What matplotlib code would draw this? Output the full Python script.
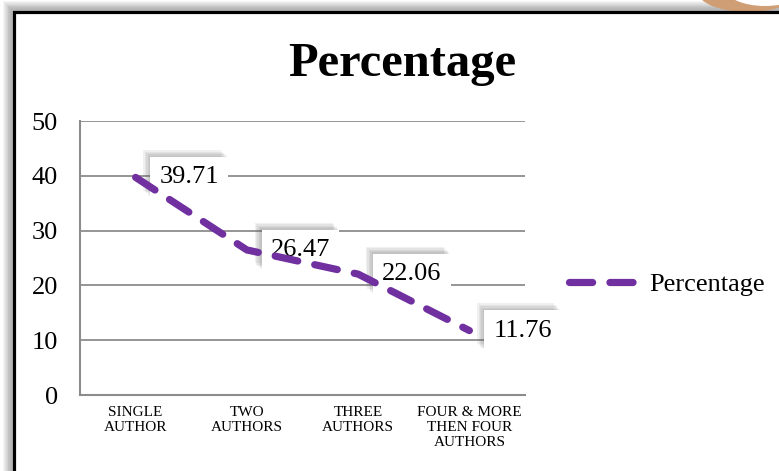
import matplotlib
matplotlib.use('Agg')
import matplotlib.pyplot as plt
import matplotlib.patheffects as pe
from matplotlib.patches import Rectangle, Ellipse

# data
categories = ['SINGLE\nAUTHOR', 'TWO\nAUTHORS', 'THREE\nAUTHORS',
              'FOUR & MORE\nTHEN FOUR\nAUTHORS']
percentage = [39.71, 26.47, 22.06, 11.76]
yticks = [0, 10, 20, 30, 40, 50]

plt.rcParams['font.family'] = ['Liberation Serif', 'DejaVu Serif']
purple = '#7030A0'
grid_col = '#8c8c8c'

W, H = 779, 471
fig = plt.figure(figsize=(W / 100, H / 100), dpi=100)
fig.patch.set_facecolor('white')

# shadow band at top/left and the decorative tan crescent
for i in range(10):
    fig.patches.append(Rectangle(((3 + i * 0.9) / W, 0), 1, (H - 1 - i * 0.9) / H,
                                 transform=fig.transFigure, facecolor=(0.5, 0.5, 0.5, 0.08),
                                 edgecolor='none', zorder=0))
fig.patches.append(Ellipse((748 / W, (H + 8) / H), 100 / W, 40 / H,
                           transform=fig.transFigure, facecolor='#cf9e74',
                           edgecolor='none', zorder=0.5))
fig.patches.append(Ellipse((765 / W, (H + 12) / H), 80 / W, 36 / H,
                           transform=fig.transFigure, facecolor='white',
                           edgecolor='none', zorder=0.6))
# white inner card with thick black frame
fig.patches.append(Rectangle((13.5 / W, -0.1), 1, (H - 11.5) / H + 0.1,
                             transform=fig.transFigure, facecolor='white',
                             edgecolor='black', linewidth=2.3, zorder=1))

ax = fig.add_axes([80 / W, 1 - 395 / H, 445 / W, 274 / H])
ax.set_zorder(2)
ax.patch.set_alpha(0)
x = range(len(categories))
ax.plot(x, percentage, color=purple, linewidth=5.2, linestyle=(0, (3.2, 2.4)),
        dash_capstyle='round', solid_capstyle='round', label='Percentage', zorder=6)

ax.set_xlim(-0.5, len(categories) - 0.5)
ax.set_ylim(0, 50)
ax.set_yticks(yticks)
ax.set_xticks(list(x))
ax.set_xticklabels(categories, fontsize=11, linespacing=1.2)
ax.tick_params(axis='y', length=0, pad=16, labelsize=19)
ax.tick_params(axis='x', length=0, pad=8)
ax.grid(axis='y', color=grid_col, linewidth=1.3)
ax.set_axisbelow(True)
for s in ['top', 'right']:
    ax.spines[s].set_visible(False)
ax.spines['left'].set_color(grid_col)
ax.spines['left'].set_linewidth(1.5)
ax.spines['bottom'].set_color(grid_col)
ax.spines['bottom'].set_linewidth(1.5)

# data labels in white boxes with a soft shadow on the top-left
soft_shadow = [pe.SimplePatchShadow(offset=(-k, k), shadow_rgbFace='#606060', alpha=0.09)
               for k in (1, 2, 3, 4, 5)]
for xi, v in zip(x, percentage):
    t = ax.annotate(f'{v:.2f}', (xi, v), xytext=(24, 0), textcoords='offset pixels',
                    ha='left', va='center', fontsize=19, color='black',
                    bbox=dict(boxstyle='square,pad=0.35', facecolor='white',
                              edgecolor='none'), zorder=5)
    t.get_bbox_patch().set_path_effects(soft_shadow + [pe.Normal()])

fig.text(402 / W, 1 - 64 / H, 'Percentage', ha='center', va='center',
         fontsize=35, fontweight='bold', zorder=5)

ax.legend(loc='center left', bbox_to_anchor=(569 / W, 1 - 284 / H),
          bbox_transform=fig.transFigure, frameon=False, fontsize=19,
          handlelength=2.8, handletextpad=0.25, borderpad=0, borderaxespad=0)

fig.savefig('out.png', dpi=100)
